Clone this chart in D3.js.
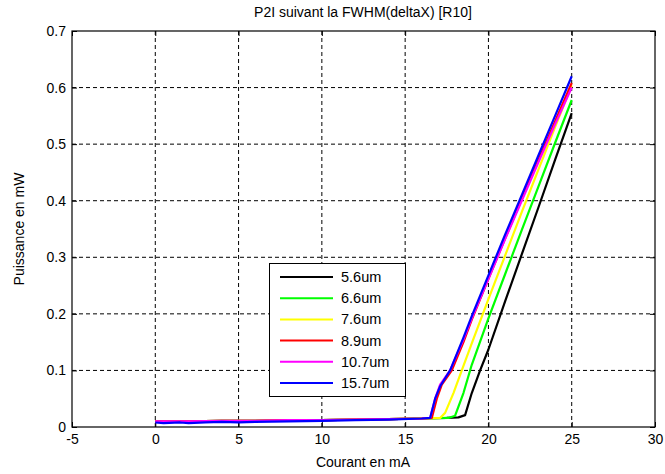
<!DOCTYPE html>
<html><head><meta charset="utf-8">
<script src="https://cdn.jsdelivr.net/npm/d3@7/dist/d3.min.js"></script>
<style>body{margin:0;background:#fff}svg{display:block;font-family:"Liberation Sans",Arial,sans-serif}</style>
</head><body><svg id="c" width="665" height="474"></svg>
<script>
const title = "P2I suivant la FWHM(deltaX) [R10]";
const xLabel = "Courant en mA";
const yLabel = "Puissance en mW";
const xTicks = [-5,0,5,10,15,20,25,30];
const yTicks = [0,0.1,0.2,0.3,0.4,0.5,0.6,0.7];
const seriesNames = ["5.6um","6.6um","7.6um","8.9um","10.7um","15.7um"];
const seriesColors = ["#000000","#00ff00","#ffff00","#ff0000","#ff00ff","#0000ff"];
// [current mA, power mW]
const s56 = [[0,0.010],[2,0.010],[4,0.011],[6,0.011],[8,0.012],[10,0.012],[12,0.013],[14,0.014],[16,0.015],[17.5,0.016],[18.2,0.017],[18.6,0.021],[19.0,0.06],[19.5,0.1],[20,0.137],[21,0.222],[22,0.305],[23,0.388],[24,0.472],[25,0.555]];
const s66 = [[0,0.010],[2,0.010],[4,0.011],[6,0.011],[8,0.012],[10,0.012],[12,0.013],[14,0.014],[16,0.015],[17.6,0.016],[18.0,0.02],[18.5,0.06],[19.0,0.11],[20,0.192],[21,0.27],[22,0.348],[23,0.425],[24,0.502],[25,0.578]];
const s76 = [[0,0.010],[2,0.010],[4,0.011],[6,0.011],[8,0.012],[10,0.012],[12,0.013],[14,0.014],[16,0.015],[17.1,0.016],[17.4,0.025],[17.9,0.06],[18.4,0.1],[19,0.148],[20,0.226],[21,0.303],[22,0.38],[23,0.455],[24,0.53],[25,0.604]];
const s89 = [[0,0.010],[2,0.010],[4,0.011],[6,0.011],[8,0.012],[10,0.012],[12,0.013],[14,0.014],[16,0.015],[16.6,0.016],[16.9,0.05],[17.2,0.075],[17.8,0.1],[18.5,0.15],[19,0.19],[20,0.262],[21,0.333],[22,0.403],[23,0.472],[24,0.54],[25,0.608]];
const s107 = [[0,0.010],[2,0.010],[4,0.011],[6,0.011],[8,0.012],[10,0.012],[12,0.013],[14,0.014],[16,0.015],[16.5,0.016],[16.8,0.05],[17.1,0.075],[17.7,0.1],[18.5,0.155],[19,0.192],[20,0.262],[21,0.332],[22,0.4],[23,0.468],[24,0.535],[25,0.6]];
const s157 = [[0,0.008],[0.5,0.007],[1.5,0.008],[2,0.007],[3,0.008],[4,0.009],[5,0.008],[6,0.009],[8,0.010],[10,0.011],[12,0.012],[14,0.013],[16,0.015],[16.5,0.016],[16.8,0.05],[17.1,0.072],[17.7,0.1],[18.5,0.158],[19,0.196],[20,0.268],[21,0.34],[22,0.41],[23,0.48],[24,0.55],[25,0.62]];
const seriesData = [s56,s66,s76,s89,s107,s157];

const svg = d3.select("#c");
const m = {l:72,r:655,t:31,b:427};
const x = d3.scaleLinear().domain([-5,30]).range([m.l,m.r]);
const y = d3.scaleLinear().domain([0,0.7]).range([m.b,m.t]);
const FONT = "'Liberation Sans',Arial,sans-serif";

// grid
const g = svg.append("g");
g.selectAll(".vx").data(xTicks.slice(1,-1)).enter().append("line")
  .attr("x1",d=>x(d)).attr("x2",d=>x(d)).attr("y1",m.t).attr("y2",m.b)
  .attr("stroke","#000").attr("stroke-width",1).attr("stroke-dasharray","4,3");
g.selectAll(".hy").data(yTicks.slice(1,-1)).enter().append("line")
  .attr("y1",d=>y(d)).attr("y2",d=>y(d)).attr("x1",m.l).attr("x2",m.r)
  .attr("stroke","#000").attr("stroke-width",1).attr("stroke-dasharray","4,3");

// axes
const xa = svg.append("g").attr("transform",`translate(0,${m.b})`)
  .call(d3.axisBottom(x).tickValues(xTicks).tickSize(-5).tickPadding(7).tickFormat(d=>String(d)));
const ya = svg.append("g").attr("transform",`translate(${m.l},0)`)
  .call(d3.axisLeft(y).tickValues(yTicks).tickSize(-5).tickPadding(6).tickFormat(d=>d===0?"0":d3.format(".1f")(d)));
[xa,ya].forEach(a=>{a.select(".domain").remove();a.selectAll("text").attr("font-size",14).attr("fill","#000").attr("font-family",FONT);a.selectAll("line").attr("stroke","#000");});
const xt = svg.append("g").attr("transform",`translate(0,${m.t})`)
  .call(d3.axisTop(x).tickValues(xTicks).tickSize(-5).tickFormat(""));
const yr = svg.append("g").attr("transform",`translate(${m.r},0)`)
  .call(d3.axisRight(y).tickValues(yTicks).tickSize(-5).tickFormat(""));
[xt,yr].forEach(a=>{a.select(".domain").remove();a.selectAll("line").attr("stroke","#000");});
svg.append("rect").attr("x",m.l).attr("y",m.t).attr("width",m.r-m.l).attr("height",m.b-m.t)
  .attr("fill","none").attr("stroke","#000").attr("stroke-width",1.2);

// lines
const line = d3.line().x(d=>x(d[0])).y(d=>y(d[1]));
seriesData.forEach((s,i)=>{
  svg.append("path").attr("d",line(s)).attr("fill","none")
    .attr("stroke",seriesColors[i]).attr("stroke-width",2.2).attr("stroke-linejoin","round");
});

// labels
svg.append("text").attr("x",363).attr("y",17).attr("text-anchor","middle").attr("font-size",14).text(title);
svg.append("text").attr("x",363).attr("y",467).attr("text-anchor","middle").attr("font-size",14).text(xLabel);
svg.append("text").attr("transform","translate(24,229) rotate(-90)").attr("text-anchor","middle").attr("font-size",14).text(yLabel);

// legend
const lg = svg.append("g");
lg.append("rect").attr("x",269.5).attr("y",263.5).attr("width",136).attr("height",133)
  .attr("fill","#fff").attr("stroke","#000").attr("stroke-width",1);
seriesNames.forEach((n,i)=>{
  const yy = 277 + i*21.2;
  lg.append("line").attr("x1",280).attr("x2",333).attr("y1",yy).attr("y2",yy)
    .attr("stroke",seriesColors[i]).attr("stroke-width",2);
  lg.append("text").attr("x",341).attr("y",yy+5).attr("font-size",14.5).attr("fill","#000").text(n);
});
</script></body></html>
